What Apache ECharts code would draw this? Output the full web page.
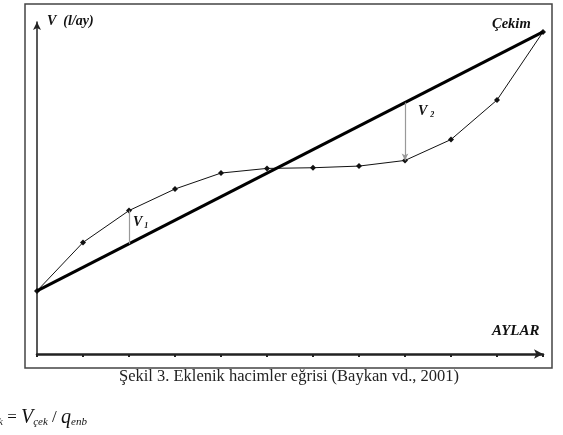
<!DOCTYPE html>
<html>
<head>
<meta charset="utf-8">
<script src="https://cdn.jsdelivr.net/npm/echarts@6/dist/echarts.min.js"></script>
<style>
  html, body { margin: 0; padding: 0; background: #fff; }
  #chart { width: 563px; height: 435px; }
</style>
</head>
<body>
<div id="chart"></div>
<script>
// months (index on the AYLAR axis)
const months = [0, 1, 2, 3, 4, 5, 6, 7, 8, 9, 10, 11];
// cumulative inflow volume curve (arbitrary units)
const inflowValues = [19.0, 33.6, 43.2, 49.7, 54.5, 55.9, 56.1, 56.6, 58.3, 64.6, 76.5, 97.0];
// cumulative withdrawal (Çekim) straight line: start and end
const drawStart = 19.0;
const drawEnd = 97.0;
// V1 / V2 storage gaps (month index)
const v1Month = 2;
const v2Month = 8;

const SERIF = '"Liberation Serif", "DejaVu Serif", serif';

function lineAt(m) {
  return drawStart + (drawEnd - drawStart) * m / (months.length - 1);
}

const inflowData = months.map((m, i) => [m, inflowValues[i]]);
const drawData = [[months[0], drawStart], [months[months.length - 1], drawEnd]];

const chart = echarts.init(document.getElementById('chart'), null, { renderer: 'canvas' });

const option = {
  backgroundColor: '#fff',
  animation: false,
  grid: { left: 37, right: 20, top: 22, bottom: 81 },
  xAxis: {
    type: 'value',
    min: 0,
    max: 11,
    interval: 1,
    axisLine: {
      show: true,
      symbol: ['none', 'arrow'],
      symbolSize: [7, 9],
      lineStyle: { color: '#222', width: 2.5 }
    },
    axisTick: { show: true, length: 3, lineStyle: { color: '#222', width: 2 } },
    axisLabel: { show: false },
    splitLine: { show: false }
  },
  yAxis: {
    type: 'value',
    min: 0,
    max: 100,
    axisLine: {
      show: true,
      onZero: false,
      symbol: ['none', 'arrow'],
      symbolSize: [6, 8],
      lineStyle: { color: '#222', width: 1.5 }
    },
    axisTick: { show: false },
    axisLabel: { show: false },
    splitLine: { show: false }
  },
  series: [
    {
      name: 'inflow',
      type: 'line',
      data: inflowData,
      symbol: 'diamond',
      symbolSize: 6,
      lineStyle: { color: '#111', width: 1 },
      itemStyle: { color: '#111' },
      z: 2,
      markLine: {
        silent: true,
        symbol: ['none', 'arrow'],
        symbolSize: [5, 7],
        label: { show: false },
        lineStyle: { color: '#999', width: 1.2, type: 'solid' },
        data: [
          [{ coord: [v1Month, lineAt(v1Month)], symbol: 'none' }, { coord: [v1Month, inflowValues[v1Month]], symbol: 'none' }],
          [{ coord: [v2Month, lineAt(v2Month)] }, { coord: [v2Month, inflowValues[v2Month]] }]
        ]
      }
    },
    {
      name: 'Çekim',
      type: 'line',
      data: drawData,
      symbol: 'none',
      lineStyle: { color: '#000', width: 3 },
      z: 3
    }
  ],
  graphic: [
    {
      type: 'rect',
      shape: { x: 25, y: 4, width: 527, height: 364 },
      style: { fill: 'none', stroke: '#444', lineWidth: 1.5 },
      z: -1
    },
    {
      type: 'text', left: 47, top: 14,
      style: { text: 'V  (l/ay)', font: 'italic bold 14px ' + SERIF, fill: '#111' }
    },
    {
      type: 'text', left: 492, top: 17,
      style: { text: 'Çekim', font: 'italic bold 14.5px ' + SERIF, fill: '#111' }
    },
    {
      type: 'text', left: 492, top: 324,
      style: { text: 'AYLAR', font: 'italic bold 15px ' + SERIF, fill: '#111' }
    },
    {
      type: 'text', left: 133, top: 215,
      style: {
        text: '{b|V}{s|1}',
        rich: {
          b: { font: 'italic bold 14px ' + SERIF, fill: '#111' },
          s: { font: 'italic bold 8px ' + SERIF, fill: '#111', padding: [7, 0, 0, 2] }
        }
      }
    },
    {
      type: 'text', left: 418, top: 104,
      style: {
        text: '{b|V}{s|2}',
        rich: {
          b: { font: 'italic bold 14px ' + SERIF, fill: '#111' },
          s: { font: 'italic bold 8px ' + SERIF, fill: '#111', padding: [7, 0, 0, 3] }
        }
      }
    },
    {
      type: 'text', left: 119, top: 368,
      style: { text: 'Şekil 3. Eklenik hacimler eğrisi (Baykan vd., 2001)', font: '16.5px ' + SERIF, fill: '#222' }
    },
    {
      type: 'text', left: -2, top: 408,
      style: {
        text: '{s|k}{n| = }{b|V}{s|çek}{n| / }{b|q}{s|enb}',
        rich: {
          b: { font: 'italic 20px ' + SERIF, fill: '#111' },
          n: { font: '17px ' + SERIF, fill: '#111' },
          s: { font: 'italic 11px ' + SERIF, fill: '#111', padding: [9, 0, 0, 0] }
        }
      }
    }
  ]
};

chart.setOption(option);
</script>
</body>
</html>
